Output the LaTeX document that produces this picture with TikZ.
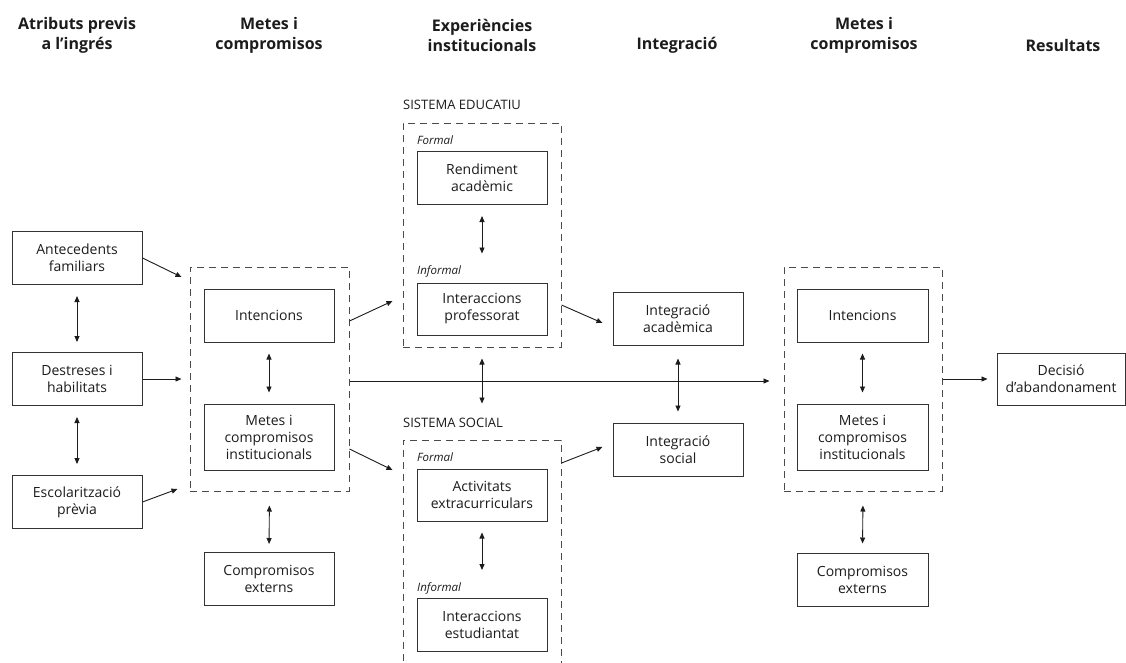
\documentclass[tikz,border=0pt]{standalone}
\usepackage{fontspec}
\setmainfont{Open Sans}
\usetikzlibrary{arrows.meta}
\definecolor{ink}{HTML}{1C1C1C}
\definecolor{boxc}{HTML}{333333}
\definecolor{dashc}{HTML}{4A4A4A}
\newcommand{\bodyf}{\fontsize{14}{17}\selectfont}
\newcommand{\headf}{\fontsize{16}{20}\selectfont\bfseries}
\newcommand{\sysf}{\fontsize{13}{15}\selectfont}
\newcommand{\subf}{\fontsize{11.5}{14}\selectfont\itshape}
\tikzset{
  bx/.style={draw=boxc, line width=1pt, text=ink, font=\bodyf, align=center,
    minimum width=130pt, minimum height=53pt, inner sep=2pt},
  grp/.style={draw=dashc, line width=1pt, dash pattern=on 7pt off 5pt,
    minimum width=159pt, minimum height=224pt, inner sep=0pt},
  hdr/.style={text=ink, font=\headf, align=center, inner sep=0pt},
  sys/.style={text=ink, font=\sysf, anchor=west, inner sep=0pt},
  sub/.style={text=ink, font=\subf, anchor=west, inner sep=0pt},
  arr/.style={draw=ink, line width=0.9pt, -{Triangle[length=6pt,width=5pt]}},
  dbl/.style={draw=ink, line width=0.9pt, {Triangle[length=6pt,width=5pt]}-{Triangle[length=6pt,width=5pt]}}
}
\begin{document}
\begin{tikzpicture}[x=1pt,y=-1pt]
\useasboundingbox (0,0) rectangle (1126,662);
\clip (0,0) rectangle (1126,662);
\fill[white] (0,0) rectangle (1126,662);

% headers
\node[hdr] (h1) at (77,35) {Atributs previs\\a l’ingrés};
\node[hdr] (h2) at (269,35) {Metes i\\compromisos};
\node[hdr] (h3) at (482,35) {Experiències\\institucionals};
\node[hdr] (h4) at (677,45) {Integració};
\node[hdr] (h5) at (864,35) {Metes i\\compromisos};
\node[hdr] (h6) at (1063,45) {Resultats};

% left column
\node[bx] (af) at (77,258) {Antecedents\\familiars};
\node[bx] (dh) at (77,379) {Destreses i\\habilitats};
\node[bx] (ep) at (77,502) {Escolarització\\prèvia};

% group 1
\node[grp] (D1) at (269.5,379) {};
\node[bx] (int1) at (269,315.5) {Intencions};
\node[bx, minimum height=66pt] (mci1) at (269,437) {Metes i\\compromisos\\institucionals};
\node[bx] (ce1) at (269,579) {Compromisos\\externs};

% sistema educatiu
\node[sys] (SEl) at (403,105) {SISTEMA EDUCATIU};
\node[grp, minimum width=158pt] (SE) at (482,235) {};
\node[sub] (f1) at (417,140) {Formal};
\node[bx] (ra) at (482,178) {Rendiment\\acadèmic};
\node[sub] (i1) at (417,271) {Informal};
\node[bx, minimum height=52pt] (ip) at (482,309) {Interaccions\\professorat};

% sistema social
\node[sys] (SSl) at (403,423) {SISTEMA SOCIAL};
\node[grp, minimum width=158pt, minimum height=250pt] (SS) at (482,565) {};
\node[sub] (f2) at (417,457) {Formal};
\node[bx, minimum height=52pt] (ae) at (482,495) {Activitats\\extracurriculars};
\node[sub] (i2) at (417,588) {Informal};
\node[bx] (ie) at (482,625) {Interaccions\\estudiantat};

% integracio
\node[bx] (ia) at (678,318.5) {Integració\\acadèmica};
\node[bx] (is) at (678,449.5) {Integració\\social};

% group 2
\node[grp, minimum width=158pt] (D2) at (863,379) {};
\node[bx, minimum width=131pt] (int2) at (862.5,315.5) {Intencions};
\node[bx, minimum width=131pt, minimum height=66pt] (mci2) at (862.5,437) {Metes i\\compromisos\\institucionals};
\node[bx, minimum width=131pt] (ce2) at (862.5,579.5) {Compromisos\\externs};

% result
\node[bx, minimum width=128pt, minimum height=52pt, inner sep=1pt] (dec) at (1061,379) {Decisió\\d’abandonament};

% connectors left
\draw[dbl, shorten <=11pt, shorten >=10pt] (af.south) -- (dh.north);
\draw[dbl, shorten <=11pt, shorten >=11pt] (dh.south) -- (ep.north);
\draw[arr] (af.east) -- ([xshift=-8pt,yshift=102pt]D1.west);
\draw[arr] (dh.east) -- ([xshift=-8pt]D1.west);
\draw[arr] (ep.east) -- ([xshift=-12pt,yshift=-110pt]D1.west);

% group 1 internal
\draw[dbl, shorten <=11pt, shorten >=11pt] (int1.south) -- (mci1.north);
\draw[dbl, shorten <=14pt, shorten >=8pt] (D1.south) -- (ce1.north);

% group 1 to systems
\draw[arr] ([yshift=58pt]D1.east) -- ([xshift=-10pt,yshift=-66pt]SE.west);
\draw[arr] ([yshift=-70pt]D1.east) -- ([xshift=-10pt,yshift=95pt]SS.west);

% systems internal
\draw[dbl, shorten <=11pt, shorten >=29pt] (ra.south) -- (ip.north);
\draw[dbl, shorten <=11pt, shorten >=28pt] (ae.south) -- (ie.north);
\draw[dbl, shorten <=11pt, shorten >=36pt] (SE.south) -- (SS.north);

% systems to integration
\draw[arr] ([yshift=-70pt]SE.east) -- ([xshift=-10pt,yshift=-4.5pt]ia.west);
\draw[arr] ([yshift=102pt]SS.east) -- ([xshift=-10pt,yshift=2.5pt]is.west);
\draw[dbl, shorten <=13pt, shorten >=11pt] (ia.south) -- (is.north);

% main arrow
\draw[arr] ([yshift=-2pt]D1.east) -- ([xshift=-14pt,yshift=-2pt]D2.west);

% group 2 internal
\draw[dbl, shorten <=11pt, shorten >=11pt] (int2.south) -- (mci2.north);
\draw[dbl, shorten <=14pt, shorten >=9pt] (D2.south) -- (ce2.north);
\draw[arr, shorten >=9pt] (D2.east) -- (dec.west);
\end{tikzpicture}
\end{document}
